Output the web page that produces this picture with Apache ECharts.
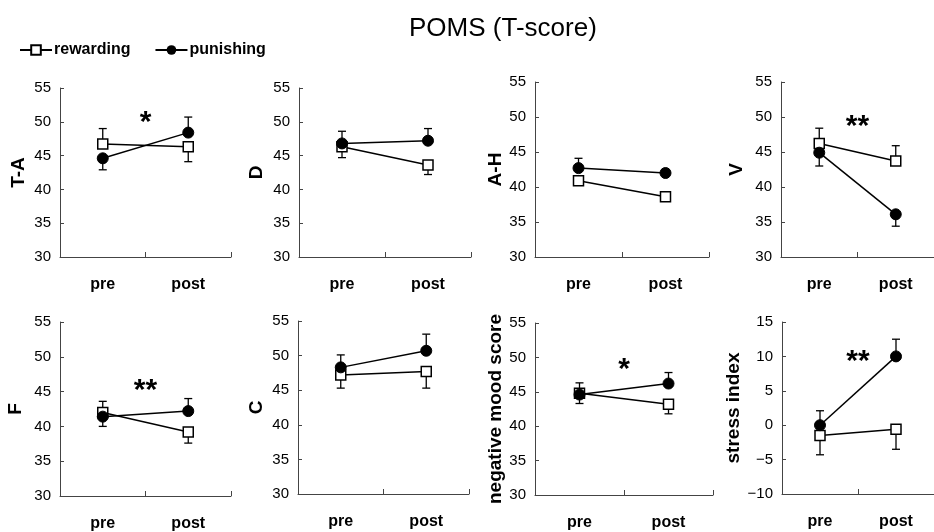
<!DOCTYPE html>
<html><head><meta charset="utf-8">
<script src="https://cdn.jsdelivr.net/npm/echarts@6/dist/echarts.min.js"></script>
<style>html,body{margin:0;padding:0;background:#fff}#c{width:934px;height:532px}</style>
</head><body><div id="c"></div>
<script>
// ---- data ----
const categories = ['pre', 'post'];
const panelNames = ['T-A', 'D', 'A-H', 'V', 'F', 'C', 'negative mood score', 'stress index'];
const yMin = [30, 30, 30, 30, 30, 30, 30, -10];
const yMax = [55, 55, 55, 55, 55, 55, 55, 15];
const rewardingMean = [[46.7, 46.3], [46.3, 43.6], [40.9, 38.6], [46.2, 43.7], [42.0, 39.2], [47.2, 47.7], [44.8, 43.2], [-1.5, -0.6]];
// signed error: positive = drawn upward, negative = drawn downward
const rewardingErr = [[2.3, -2.2], [-1.6, -1.4], [-0.5, -0.5], [2.2, 2.2], [1.6, -1.6], [-1.9, -2.4], [1.5, -1.4], [-2.8, -2.9]];
const punishingMean = [[44.6, 48.4], [46.8, 47.2], [42.7, 42.0], [44.9, 36.1], [41.4, 42.2], [48.3, 50.7], [44.6, 46.2], [0.0, 10.0]];
const punishingErr = [[-1.7, 2.3], [1.8, 1.8], [1.4, 0.5], [-1.9, -1.7], [-1.4, 1.8], [1.8, 2.4], [-1.3, 1.6], [2.1, 2.5]];
const sigText = ['*', '', '', '**', '**', '', '*', '**'];
const sigY = [51.0, null, null, 49.8, 46.3, null, 49.3, 10.4];

// ---- layout ----
const FONT = 'Liberation Sans, Arial, sans-serif';
const grids = [
  {left: 60, top: 88, width: 171, height: 169},
  {left: 299, top: 88, width: 172, height: 169},
  {left: 535, top: 82, width: 174, height: 175},
  {left: 781, top: 82, width: 163, height: 175},
  {left: 60, top: 322, width: 171, height: 175},
  {left: 298, top: 321, width: 171, height: 173},
  {left: 535, top: 323, width: 178, height: 172},
  {left: 782, top: 322, width: 162, height: 172}
];
const nameGaps = [32, 33, 29, 35, 35, 32, 27, 34];

const option = {
  animation: false,
  backgroundColor: '#fff',
  title: {
    text: 'POMS (T-score)', left: 404, top: 11,
    textStyle: {fontFamily: FONT, fontSize: 26, fontWeight: 'normal', color: '#000'}
  },
  legend: {
    left: 14, top: 37, itemWidth: 32, itemHeight: 12, itemGap: 24,
    data: ['rewarding', 'punishing'],
    textStyle: {fontFamily: FONT, fontSize: 16, fontWeight: 'bold', color: '#000', padding: [0, 0, 0, -3]}
  },
  grid: [], xAxis: [], yAxis: [], series: []
};

const axisColor = '#444';
for (let i = 0; i < 8; i++) {
  option.grid.push(Object.assign({containLabel: false}, grids[i]));
  option.xAxis.push({
    type: 'category', gridIndex: i, data: categories, boundaryGap: true,
    axisLine: {show: true, onZero: false, lineStyle: {color: axisColor, width: 1}},
    axisTick: {show: true, inside: true, length: 5, lineStyle: {color: axisColor}},
    axisLabel: {margin: 20, color: '#000', fontWeight: 'bold', fontSize: 16, fontFamily: FONT},
    splitLine: {show: false}
  });
  option.yAxis.push({
    type: 'value', gridIndex: i, min: yMin[i], max: yMax[i], interval: 5,
    name: panelNames[i], nameLocation: 'middle', nameGap: nameGaps[i], nameRotate: 90,
    nameTextStyle: {fontFamily: FONT, fontWeight: 'bold', fontSize: 19, color: '#000'},
    axisLine: {show: true, lineStyle: {color: axisColor, width: 1}},
    axisTick: {show: true, inside: true, length: 4, lineStyle: {color: axisColor}},
    axisLabel: {fontSize: 15, color: '#000', margin: 9, fontFamily: FONT,
      formatter: v => String(v).replace('-', '\u2212')},
    splitLine: {show: false}
  });

  const errSeries = (means, errs) => ({
    type: 'custom', xAxisIndex: i, yAxisIndex: i, z: 2, silent: true,
    data: means.map((m, k) => [k, m, errs[k]]),
    renderItem: (params, api) => {
      const k = api.value(0), m = api.value(1), e = api.value(2);
      const a = api.coord([k, m]);
      const b = api.coord([k, m + e]);
      return {
        type: 'group', children: [
          {type: 'line', shape: {x1: a[0], y1: a[1], x2: b[0], y2: b[1]}, style: {stroke: '#000', lineWidth: 1.3}},
          {type: 'line', shape: {x1: b[0] - 4, y1: b[1], x2: b[0] + 4, y2: b[1]}, style: {stroke: '#000', lineWidth: 1.3}}
        ]
      };
    }
  });
  option.series.push(errSeries(rewardingMean[i], rewardingErr[i]));
  option.series.push(errSeries(punishingMean[i], punishingErr[i]));

  option.series.push({
    type: 'line', name: 'rewarding', xAxisIndex: i, yAxisIndex: i, z: 3,
    data: rewardingMean[i], symbol: 'rect', symbolSize: 10,
    itemStyle: {color: '#fff', borderColor: '#000', borderWidth: 1.5},
    lineStyle: {color: '#000', width: 1.5}
  });
  option.series.push({
    type: 'line', name: 'punishing', xAxisIndex: i, yAxisIndex: i, z: 4,
    data: punishingMean[i], symbol: 'circle', symbolSize: 11,
    itemStyle: {color: '#000', borderColor: '#000'},
    lineStyle: {color: '#000', width: 1.5}
  });

  if (sigText[i]) {
    const txt = sigText[i];
    option.series.push({
      type: 'custom', xAxisIndex: i, yAxisIndex: i, z: 5, silent: true,
      data: [[0, sigY[i]]],
      renderItem: (params, api) => {
        const y = api.value(1);
        const p0 = api.coord([0, y]);
        const p1 = api.coord([1, y]);
        return {
          type: 'text',
          style: {
            text: txt, x: (p0[0] + p1[0]) / 2, y: p0[1] + 8,
            align: 'center', verticalAlign: 'middle',
            font: 'bold 30px ' + FONT, fill: '#000'
          }
        };
      }
    });
  }
}

const chart = echarts.init(document.getElementById('c'), null, {renderer: 'canvas'});
chart.setOption(option);
</script>
</body></html>
